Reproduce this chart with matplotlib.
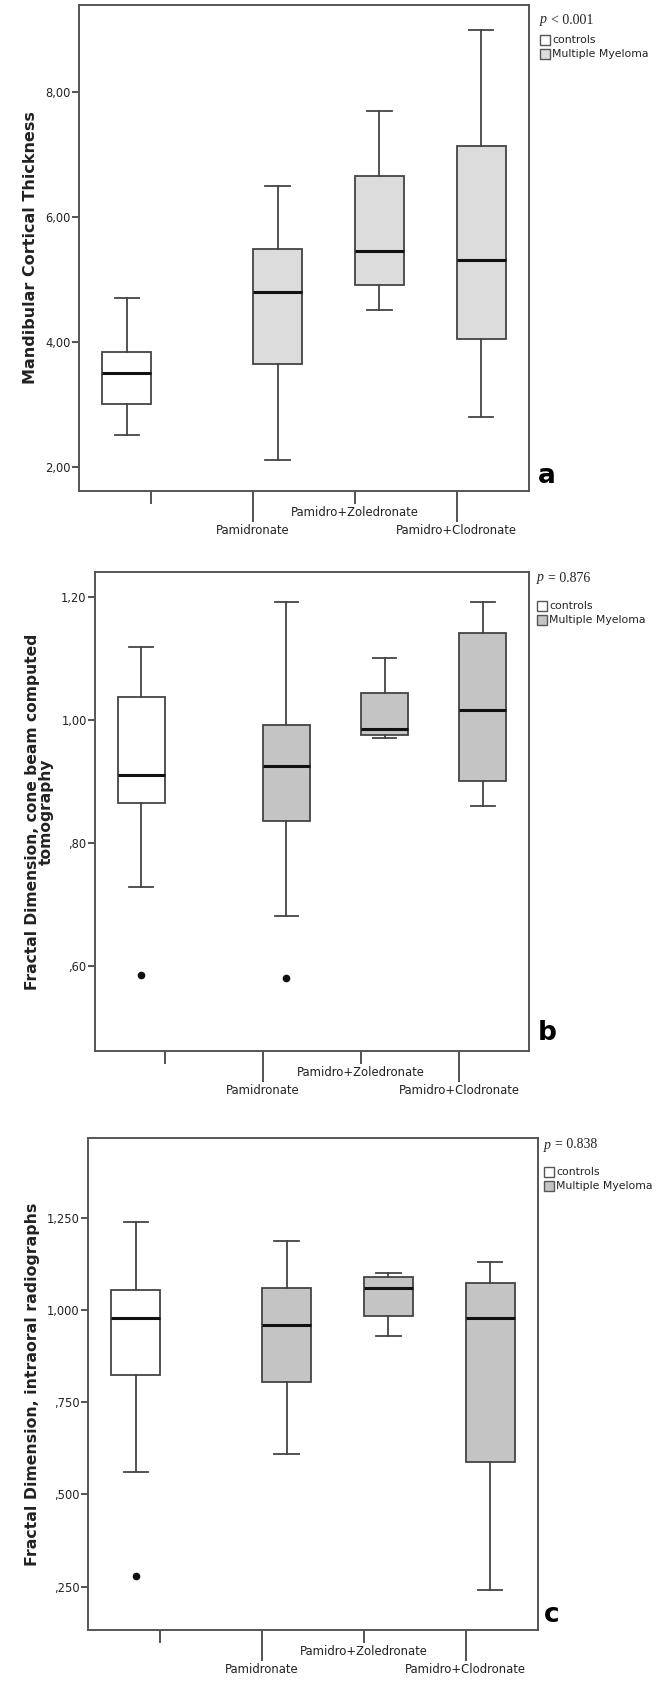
import matplotlib
matplotlib.use("Agg")
import matplotlib.pyplot as plt
from matplotlib.patches import Rectangle

# categories (first one is the control group, others are Multiple Myeloma)
groups = ["", "Pamidronate", "Pamidro+Zoledronate", "Pamidro+Clodronate"]

# panel a: Mandibular Cortical Thickness
a_whislo = [2.50, 2.11, 4.50, 2.80]
a_q1 = [3.01, 3.65, 4.90, 4.05]
a_med = [3.50, 4.80, 5.45, 5.30]
a_q3 = [3.84, 5.49, 6.65, 7.14]
a_whishi = [4.70, 6.50, 7.70, 8.99]
a_fliers = [[], [], [], []]
a_ticks = [2, 4, 6, 8]
a_ticklabels = ["2,00", "4,00", "6,00", "8,00"]

# panel b: Fractal Dimension, CBCT
b_whislo = [0.728, 0.680, 0.970, 0.860]
b_q1 = [0.865, 0.835, 0.975, 0.900]
b_med = [0.910, 0.925, 0.985, 1.015]
b_q3 = [1.036, 0.991, 1.044, 1.140]
b_whishi = [1.118, 1.191, 1.100, 1.191]
b_fliers = [[0.584], [0.580], [], []]
b_ticks = [0.6, 0.8, 1.0, 1.2]
b_ticklabels = [",60", ",80", "1,00", "1,20"]

# panel c: Fractal Dimension, intraoral radiographs
c_whislo = [0.560, 0.610, 0.931, 0.240]
c_q1 = [0.825, 0.805, 0.986, 0.589]
c_med = [0.980, 0.961, 1.060, 0.980]
c_q3 = [1.056, 1.060, 1.090, 1.075]
c_whishi = [1.241, 1.189, 1.101, 1.130]
c_fliers = [[0.278], [], [], []]
c_ticks = [0.25, 0.5, 0.75, 1.0, 1.25]
c_ticklabels = [",250", ",500", ",750", "1,000", "1,250"]

W, H = 669, 1702
fig = plt.figure(figsize=(W / 100, H / 100), dpi=100)
fig.patch.set_facecolor("white")


def px_axes(left, top, right, bottom):
    return fig.add_axes([left / W, 1 - bottom / H, (right - left) / W, (bottom - top) / H])


def fx(x):
    return x / W


def fy(y):
    return 1 - y / H


edge = "#444444"
txt = "#222222"


def draw_panel(ax, whislo, q1, med, q3, whishi, fliers, mm_color, ylim, ticks, ticklabels):
    stats = []
    for i in range(len(groups)):
        stats.append({"whislo": whislo[i], "q1": q1[i], "med": med[i], "q3": q3[i],
                      "whishi": whishi[i], "fliers": fliers[i]})
    positions = [1 - 0.24, 2 + 0.24, 3 + 0.24, 4 + 0.24]
    bp = ax.bxp(stats, positions=positions, widths=0.48, capwidths=0.24,
                showfliers=True, patch_artist=True,
                boxprops=dict(edgecolor=edge, linewidth=1.3),
                whiskerprops=dict(color=edge, linewidth=1.3),
                capprops=dict(color=edge, linewidth=1.3),
                medianprops=dict(color="#111111", linewidth=2.2),
                flierprops=dict(marker="o", markerfacecolor="#111111",
                                markeredgecolor="#111111", markersize=4.5))
    for i, box in enumerate(bp["boxes"]):
        box.set_facecolor("white" if i == 0 else mm_color)

    ax.set_xlim(0.29, 4.71)
    ax.set_ylim(*ylim)
    ax.set_yticks(ticks)
    ax.set_yticklabels(ticklabels, fontsize=8.3, color=txt)
    ax.tick_params(axis="y", length=5, width=1.3, color=edge, pad=1)

    # staggered category labels like SPSS
    ax.set_xticks([1, 3])
    ax.set_xticklabels([groups[0], groups[2]], fontsize=8.4, color=txt)
    ax.set_xticks([2, 4], minor=True)
    ax.set_xticklabels([groups[1], groups[3]], minor=True, fontsize=8.4, color=txt)
    ax.tick_params(axis="x", which="major", length=9, width=1.3, color=edge, pad=2)
    ax.tick_params(axis="x", which="minor", length=22, width=1.3, color=edge, pad=2)
    for s in ax.spines.values():
        s.set_color("#555555")
        s.set_linewidth(1.4)


def legend(x, y_p, y1, y2, ptext, mm_color):
    fig.text(fx(x), fy(y_p), "p", fontsize=10, family="Liberation Serif",
             style="italic", va="center", ha="left", color=txt)
    fig.text(fx(x + 11), fy(y_p), ptext, fontsize=10, family="Liberation Serif",
             va="center", ha="left", color=txt)
    for yy, col, lab in [(y1, "white", "controls"), (y2, mm_color, "Multiple Myeloma")]:
        fig.patches.append(Rectangle((fx(x), fy(yy + 5)), 10 / W, 10 / H,
                                     transform=fig.transFigure, facecolor=col,
                                     edgecolor="#555555", linewidth=1.0))
        fig.text(fx(x + 12), fy(yy), lab, fontsize=7.8, va="center", ha="left",
                 color=txt)


# panel a
ax_a = px_axes(79, 5, 529, 491)
draw_panel(ax_a, a_whislo, a_q1, a_med, a_q3, a_whishi, a_fliers, "#dcdcdc",
           (1.61, 9.39), a_ticks, a_ticklabels)
ax_a.set_ylabel("Mandibular Cortical Thickness", fontsize=11.5, fontweight="bold",
                color=txt, labelpad=5)
legend(540, 20, 40, 54, "< 0.001", "#dcdcdc")
fig.text(fx(538), fy(476), "a", fontsize=19, fontweight="bold", va="center", ha="left")

# panel b
ax_b = px_axes(95, 572, 529, 1051)
draw_panel(ax_b, b_whislo, b_q1, b_med, b_q3, b_whishi, b_fliers, "#c4c4c4",
           (0.461, 1.240), b_ticks, b_ticklabels)
ax_b.set_ylabel("Fractal Dimension, cone beam computed\ntomography", fontsize=11.2,
                fontweight="bold", color=txt, labelpad=5, linespacing=0.95)
legend(537, 578, 606, 620, "= 0.876", "#c4c4c4")
fig.text(fx(538), fy(1033), "b", fontsize=19, fontweight="bold", va="center", ha="left")

# panel c
ax_c = px_axes(88, 1138, 538, 1630)
draw_panel(ax_c, c_whislo, c_q1, c_med, c_q3, c_whishi, c_fliers, "#c4c4c4",
           (0.132, 1.468), c_ticks, c_ticklabels)
ax_c.set_ylabel("Fractal Dimension, intraoral radiographs", fontsize=11.3,
                fontweight="bold", color=txt, labelpad=5)
legend(544, 1145, 1172, 1186, "= 0.838", "#c4c4c4")
fig.text(fx(544), fy(1615), "c", fontsize=19, fontweight="bold", va="center", ha="left")

fig.savefig("out.png", dpi=100, facecolor="white")
